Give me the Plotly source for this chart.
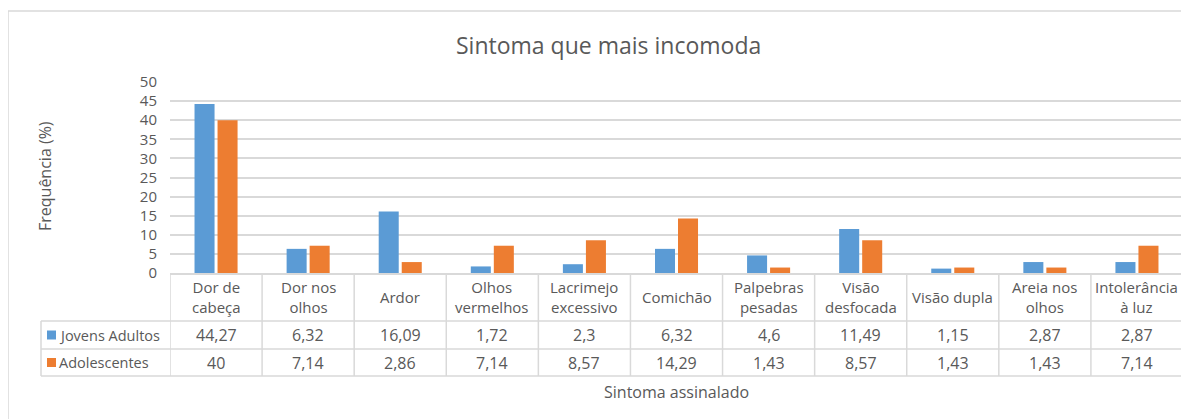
import plotly.graph_objects as go

# Data
categorias = ["Dor de<br>cabeça", "Dor nos<br>olhos", "Ardor", "Olhos<br>vermelhos",
              "Lacrimejo<br>excessivo", "Comichão", "Palpebras<br>pesadas",
              "Visão<br>desfocada", "Visão dupla", "Areia nos<br>olhos",
              "Intolerância<br>à luz"]
jovens_adultos = [44.27, 6.32, 16.09, 1.72, 2.3, 6.32, 4.6, 11.49, 1.15, 2.87, 2.87]
adolescentes = [40, 7.14, 2.86, 7.14, 8.57, 14.29, 1.43, 8.57, 1.43, 1.43, 7.14]
series = [("Jovens Adultos", jovens_adultos, "#5B9BD5"),
          ("Adolescentes", adolescentes, "#ED7D31")]
y_ticks = [0, 5, 10, 15, 20, 25, 30, 35, 40, 45, 50]

FONT = "Open Sans"
GRAY = "#595959"
LINE = "#D9D9D9"

# page has an 8px body margin, so work in window pixels and shift
OFF = 8
W, H = 1189 - OFF, 419 - OFF
L, R, T, B = 170 - OFF, 6, 82 - OFF, 419 - 273
plot_w = W - L - R
plot_h = H - T - B


def py(pix):  # window pixel row -> paper y
    return (273 - pix) / plot_h


def px(pix):  # window pixel col -> paper x
    return (pix - 170) / plot_w


def fmt(v):
    return f"{v:g}".replace(".", ",")


x_idx = list(range(len(categorias)))

fig = go.Figure()
for name, vals, color in series:
    fig.add_trace(go.Bar(x=x_idx, y=vals, name=name, marker_color=color,
                         marker_line_width=0, showlegend=False))

# table rows (paper y)
y_top, y_r1, y_r2, y_bot = py(273), py(321), py(349), py(376)
x_leg = px(41)
row_px = [335, 362.5]
row_y = [py(p) for p in row_px]

shapes = []
# vertical lines at category boundaries
for i in range(len(categorias) + 1):
    shapes.append(dict(type="line", xref="x", yref="paper", x0=i - 0.5, x1=i - 0.5,
                       y0=y_top, y1=y_bot, line=dict(color=LINE, width=1.5)))
# legend column left edge
shapes.append(dict(type="line", xref="paper", yref="paper", x0=x_leg, x1=x_leg,
                   y0=y_r1, y1=y_bot, line=dict(color=LINE, width=1.5)))
# horizontal lines
for yy in (y_r1, y_r2, y_bot):
    shapes.append(dict(type="line", xref="paper", yref="paper", x0=x_leg, x1=1,
                       y0=yy, y1=yy, line=dict(color=LINE, width=1.5)))
# chart border (top & left)
shapes.append(dict(type="line", xref="paper", yref="paper", x0=px(8), x1=px(1200),
                   y0=py(11), y1=py(11), line=dict(color=LINE, width=1.5)))
shapes.append(dict(type="line", xref="paper", yref="paper", x0=px(8), x1=px(8),
                   y0=py(11), y1=py(430), line=dict(color=LINE, width=1.5)))
# legend keys inside the data table
for (name, vals, color), p in zip(series, row_px):
    shapes.append(dict(type="rect", xref="paper", yref="paper",
                       x0=px(47), x1=px(56), y0=py(p - 4.5), y1=py(p + 4.5),
                       fillcolor=color, line=dict(width=0)))

head_font = dict(family=FONT, size=15, color=GRAY)
num_font = dict(family=FONT, size=16, color=GRAY)
leg_font = dict(family=FONT, size=14.5, color=GRAY)
axis_font = dict(family=FONT, size=16, color=GRAY)

annotations = []
for i, cat in enumerate(categorias):
    annotations.append(dict(x=i, y=(y_top + y_r1) / 2, xref="x", yref="paper",
                            xanchor="center", yanchor="middle",
                            text=cat, showarrow=False, font=head_font))
    for (name, vals, color), yy in zip(series, row_y):
        annotations.append(dict(x=i, y=yy, xref="x", yref="paper",
                                xanchor="center", yanchor="middle",
                                text=fmt(vals[i]), showarrow=False, font=num_font))
for (name, vals, color), yy in zip(series, row_y):
    annotations.append(dict(x=px(57), y=yy, xref="paper", yref="paper",
                            xanchor="left", yanchor="middle",
                            text=name, showarrow=False, font=leg_font))

annotations.append(dict(x=px(608), y=py(45), xref="paper", yref="paper",
                        xanchor="center", yanchor="middle",
                        text="Sintoma que mais incomoda", showarrow=False,
                        font=dict(family=FONT, size=23, color=GRAY)))
annotations.append(dict(x=px(45), y=py(176), xref="paper", yref="paper",
                        xanchor="center", yanchor="middle", textangle=-90,
                        text="Frequência (%)", showarrow=False, font=axis_font))
annotations.append(dict(x=0.5, y=py(392), xref="paper", yref="paper",
                        xanchor="center", yanchor="middle",
                        text="Sintoma assinalado", showarrow=False, font=axis_font))

fig.update_layout(
    width=W, height=H,
    margin=dict(l=L, r=R, t=T, b=B),
    plot_bgcolor="white", paper_bgcolor="white",
    barmode="group", bargap=0.5, bargroupgap=0.13,
    shapes=shapes, annotations=annotations,
    font=dict(family=FONT, color=GRAY),
    xaxis=dict(range=[-0.5, len(categorias) - 0.5], showticklabels=False,
               showgrid=False, zeroline=False, showline=True,
               linecolor=LINE, linewidth=1.5, ticks=""),
    yaxis=dict(range=[0, 50], tickvals=y_ticks, showgrid=True, gridcolor=LINE,
               gridwidth=1.5, zeroline=False, showline=False,
               ticklabelstandoff=12,
               tickfont=dict(family=FONT, size=15, color=GRAY)),
)

fig.write_html("out.html")
